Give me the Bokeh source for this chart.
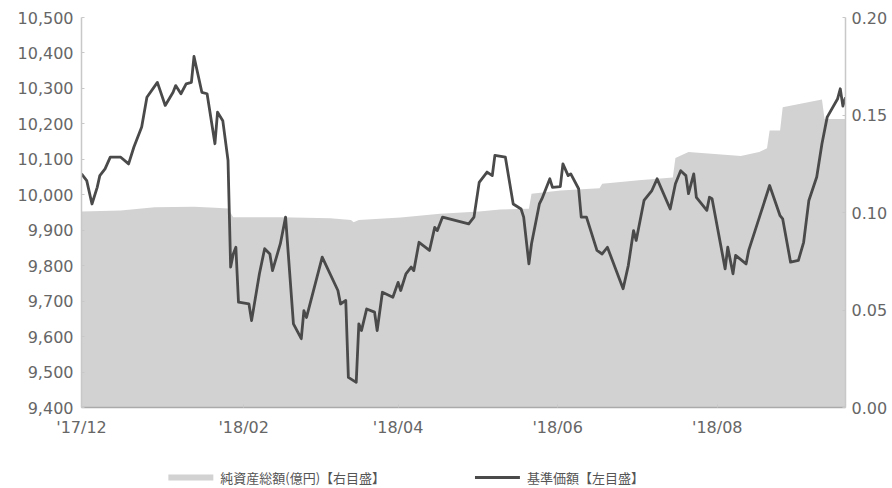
from datetime import datetime
from bokeh.plotting import figure
from bokeh.layouts import column
from bokeh.models import (Range1d, LinearAxis, FixedTicker,
                          NumeralTickFormatter, DatetimeTickFormatter, MonthsTicker)
from bokeh.core.properties import value
from bokeh.embed import file_html
from bokeh.resources import INLINE

# 基準価額 (left axis)
nav_dates = ["2017-12-01", "2017-12-03", "2017-12-05", "2017-12-07", "2017-12-08", "2017-12-10",
             "2017-12-12", "2017-12-16", "2017-12-19", "2017-12-21", "2017-12-24", "2017-12-26",
             "2017-12-30", "2018-01-02", "2018-01-05", "2018-01-06", "2018-01-08", "2018-01-10",
             "2018-01-12", "2018-01-13", "2018-01-16", "2018-01-18", "2018-01-21", "2018-01-22",
             "2018-01-24", "2018-01-26", "2018-01-27", "2018-01-28", "2018-01-29", "2018-01-30",
             "2018-02-03", "2018-02-04", "2018-02-07", "2018-02-09", "2018-02-11", "2018-02-12",
             "2018-02-15", "2018-02-17", "2018-02-20", "2018-02-23", "2018-02-24", "2018-02-25",
             "2018-03-03", "2018-03-09", "2018-03-10", "2018-03-12", "2018-03-13", "2018-03-16",
             "2018-03-17", "2018-03-18", "2018-03-20", "2018-03-23", "2018-03-24", "2018-03-26",
             "2018-03-30", "2018-04-01", "2018-04-02", "2018-04-04", "2018-04-06", "2018-04-07",
             "2018-04-09", "2018-04-13", "2018-04-15", "2018-04-16", "2018-04-18", "2018-04-28",
             "2018-04-30", "2018-05-02", "2018-05-05", "2018-05-07", "2018-05-08", "2018-05-12",
             "2018-05-15", "2018-05-18", "2018-05-19", "2018-05-21", "2018-05-22", "2018-05-25",
             "2018-05-26", "2018-05-29", "2018-05-30", "2018-06-02", "2018-06-03", "2018-06-05",
             "2018-06-06", "2018-06-09", "2018-06-10", "2018-06-12", "2018-06-16", "2018-06-18",
             "2018-06-20", "2018-06-26", "2018-06-28", "2018-06-30", "2018-07-01", "2018-07-04",
             "2018-07-07", "2018-07-09", "2018-07-14", "2018-07-16", "2018-07-18", "2018-07-20",
             "2018-07-21", "2018-07-23", "2018-07-24", "2018-07-28", "2018-07-29", "2018-07-30",
             "2018-08-04", "2018-08-05", "2018-08-07", "2018-08-08", "2018-08-12", "2018-08-13",
             "2018-08-21", "2018-08-25", "2018-08-26", "2018-08-29", "2018-09-01", "2018-09-03",
             "2018-09-05", "2018-09-08", "2018-09-10", "2018-09-12", "2018-09-16", "2018-09-17",
             "2018-09-18", "2018-09-19"]
nav_values = [10059, 10040, 9974, 10021, 10054, 10073,
              10106, 10106, 10087, 10134, 10191, 10275,
              10317, 10252, 10289, 10308, 10285, 10313,
              10317, 10390, 10289, 10285, 10144, 10233,
              10209, 10097, 9796, 9833, 9852, 9697,
              9692, 9645, 9777, 9848, 9833, 9786,
              9862, 9937, 9636, 9594, 9673, 9654,
              9824, 9730, 9692, 9702, 9485, 9471,
              9636, 9617, 9678, 9669, 9617, 9725,
              9711, 9753, 9730, 9777, 9796, 9786,
              9866, 9843, 9908, 9899, 9937, 9918,
              9937, 10035, 10064, 10054, 10111, 10106,
              9974, 9960, 9937, 9805, 9862, 9974,
              9989, 10045, 10021, 10023, 10087, 10054,
              10059, 10017, 9937, 9937, 9843, 9833,
              9852, 9735, 9801, 9899, 9871, 9984,
              10012, 10045, 9960, 10031, 10068, 10054,
              10003, 10059, 9993, 9956, 9993, 9989,
              9791, 9852, 9777, 9829, 9805, 9843,
              10026, 9941, 9932, 9810, 9815, 9866,
              9984, 10050, 10144, 10219, 10271, 10299,
              10250, 10275]

# 純資産総額(億円) (right axis)
aum_dates = ["2017-12-01", "2017-12-16", "2017-12-29", "2018-01-13", "2018-01-21", "2018-01-26",
             "2018-01-28", "2018-02-15", "2018-03-06", "2018-03-14", "2018-03-15", "2018-03-17",
             "2018-04-02", "2018-04-17", "2018-05-02", "2018-05-10", "2018-05-21", "2018-05-22",
             "2018-06-02", "2018-06-17", "2018-06-18", "2018-07-02", "2018-07-15", "2018-07-16",
             "2018-07-21", "2018-08-10", "2018-08-17", "2018-08-20", "2018-08-21", "2018-08-25",
             "2018-08-26", "2018-09-10", "2018-09-11", "2018-09-19"]
aum_values = [0.1005, 0.101, 0.1027, 0.103, 0.1025, 0.102,
              0.0976, 0.0976, 0.097, 0.0962, 0.0950, 0.0962,
              0.0975, 0.0993, 0.1005, 0.1015, 0.1019, 0.1096,
              0.1113, 0.1125, 0.1147, 0.1165, 0.118, 0.128,
              0.131, 0.129, 0.131, 0.133, 0.142, 0.142,
              0.154, 0.158, 0.148, 0.148]

left_ticks = [9400, 9500, 9600, 9700, 9800, 9900, 10000, 10100, 10200, 10300, 10400, 10500]
right_ticks = [0.00, 0.05, 0.10, 0.15, 0.20]
tick_months = [11, 1, 3, 5, 7]   # 0-based: Dec, Feb, Apr, Jun, Aug
legend_labels = ["純資産総額(億円)【右目盛】", "基準価額【左目盛】"]

nav_x = [datetime.strptime(d, "%Y-%m-%d") for d in nav_dates]
aum_x = [datetime.strptime(d, "%Y-%m-%d") for d in aum_dates]

FONT = "DejaVu Sans"
TXT = "#666666"
AXC = "#c8c8c8"
AREA_C = "#d2d2d2"
LINE_C = "#4a4a4a"
W = 890
FL, FR = 81, 846   # frame left / right in page pixels

p = figure(width=W, height=450, x_axis_type="datetime", output_backend="svg",
           toolbar_location=None,
           x_range=Range1d(start=datetime(2017, 12, 1), end=datetime(2018, 9, 19)),
           y_range=Range1d(9400, 10500),
           min_border_left=FL, min_border_right=W - FR, min_border_top=17, min_border_bottom=43)
p.extra_y_ranges = {"right": Range1d(0, 0.20)}
p.outline_line_color = None
p.xgrid.visible = False
p.ygrid.visible = False

p.varea(x=aum_x, y1=0, y2=aum_values, y_range_name="right",
        fill_color=AREA_C, fill_alpha=1.0)
p.line(x=nav_x, y=nav_values, line_color=LINE_C, line_width=2.8, line_join="round")

yl = p.yaxis[0]
yl.ticker = FixedTicker(ticks=left_ticks)
yl.formatter = NumeralTickFormatter(format="0,0")

yr = LinearAxis(y_range_name="right", ticker=FixedTicker(ticks=right_ticks),
                formatter=NumeralTickFormatter(format="0.00"))
p.add_layout(yr, "right")

xa = p.xaxis[0]
xa.ticker = MonthsTicker(months=tick_months)
xa.formatter = DatetimeTickFormatter(months="'%y/%m", days="'%y/%m", years="'%y/%m")

for ax in [yl, yr, xa]:
    ax.axis_line_color = AXC
    ax.axis_line_width = 1.5
    ax.major_tick_line_color = AXC
    ax.major_tick_in = 3
    ax.major_tick_out = 0
    ax.minor_tick_line_color = None
    ax.major_label_text_font = FONT
    ax.major_label_text_font_size = "16px"
    ax.major_label_text_color = TXT
yl.major_label_standoff = 8
yr.major_label_standoff = 6
xa.major_label_standoff = 10
xa.axis_line_color = "#aaaaaa"

# legend strip below the chart (its frame aligns with the chart frame)
lg = figure(width=W, height=36, output_backend="svg", toolbar_location=None,
            x_range=Range1d(FL, FR), y_range=Range1d(0, 36),
            min_border_left=FL, min_border_right=W - FR, min_border_top=0, min_border_bottom=0,
            outline_line_color=None)
lg.axis.visible = False
lg.grid.visible = False
lg.segment(x0=[168, 475], y0=[9, 9], x1=[213, 520], y1=[9, 9],
           line_color=[AREA_C, LINE_C], line_width=[6, 3])
lg.text(x=[220, 527], y=[9, 9], text=legend_labels,
        text_font=value("Noto Sans CJK JP"), text_font_size="13px",
        text_color="#555555", text_baseline="middle", text_align="left")

layout = column(p, lg, spacing=0)
open("out.html", "w").write(file_html(layout, INLINE))
